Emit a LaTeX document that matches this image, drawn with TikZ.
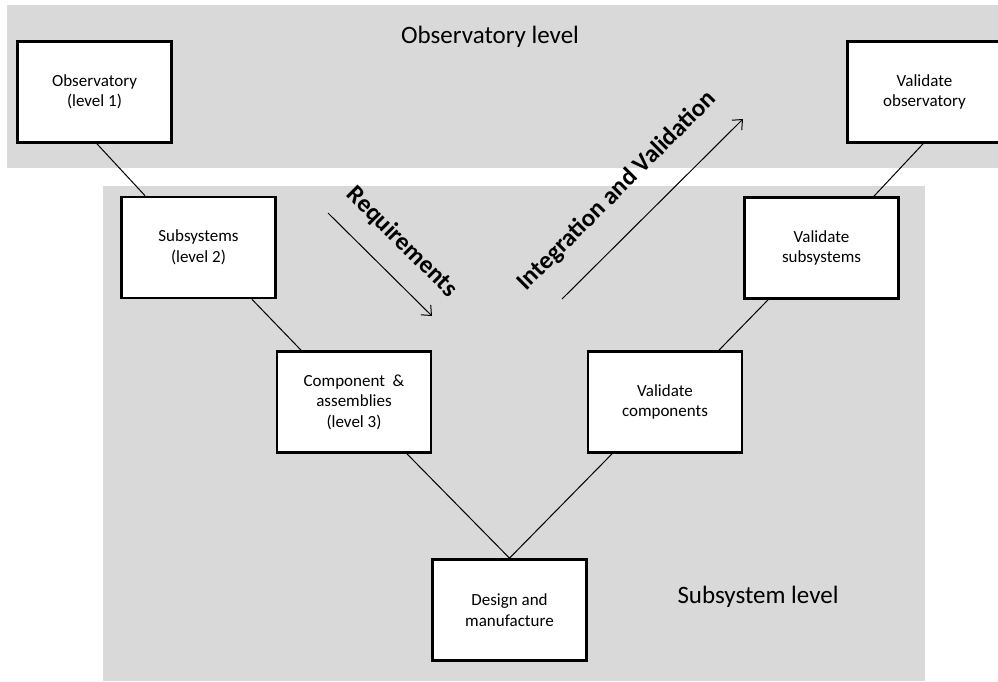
\documentclass[tikz,border=0pt]{standalone}
\usepackage{fontspec}
\setmainfont{Carlito}
\usetikzlibrary{calc,arrows.meta}
\definecolor{bandgray}{HTML}{D9D9D9}
\begin{document}
\begin{tikzpicture}[x=1pt,y=-1pt,
  box/.style={draw=black, line width=2.7pt, fill=white, minimum width=154pt,
    minimum height=101pt, inner sep=0pt, align=center,
    font=\fontsize{17}{20.5}\selectfont},
  link/.style={line width=1pt},
  flow/.style={line width=1pt, -{Straight Barb[length=8pt,width=14pt]}},
  title/.style={font=\fontsize{25}{30}\selectfont, inner sep=0pt},
  flowlabel/.style={font=\bfseries\fontsize{25}{30}\selectfont, inner sep=0pt}]
\useasboundingbox (0,0) rectangle (998,681);
% backgrounds
\fill[bandgray] (7,5) rectangle (998,168);
\fill[bandgray] (103,186) rectangle (925,681);
% titles
\node[title] (tobs) at (490,37) {Observatory level};
\node[title] (tsub) at (758,597) {Subsystem level};
% boxes
\node[box] (obs) at (94.5,92) {Observatory\\(level 1)};
\node[box] (sub) at (198.5,247.5) {Subsystems\\(level 2)};
\node[box] (comp) at (354,402) {Component\ \ \&\\assemblies\\(level 3)};
\node[box] (des) at (509.5,610) {Design and\\manufacture};
\node[box] (vcomp) at (665,402) {Validate\\components};
\node[box] (vsub) at (821.5,248) {Validate\\subsystems};
\node[box] (vobs) at (924.5,92) {Validate\\observatory};
% connectors
\draw[link] ($(obs.south)+(2.5,0)$) -- ($(sub.north)+(-53.5,0)$);
\draw[link] ($(sub.south)+(53.5,0)$) -- ($(comp.north)+(-53,0)$);
\draw[link] ($(comp.south)+(53,0)$) -- (des.north);
\draw[link] ($(vcomp.south)+(-53,0)$) -- (des.north);
\draw[link] ($(vcomp.north)+(54,0)$) -- ($(vsub.south)+(-53.5,0)$);
\draw[link] ($(vsub.north)+(52.5,0)$) -- ($(vobs.south)+(-1.5,0)$);
% flow arrows
\coordinate (r1) at (328,213);
\coordinate (r2) at (432,316);
\coordinate (i1) at (562,299);
\coordinate (i2) at (743,119);
\draw[flow] (r1) -- (r2);
\draw[flow] (i1) -- (i2);
\node[flowlabel, rotate=-45] (lreq) at (402,242) {Requirements};
\node[flowlabel, rotate=45] (lint) at (617,191) {Integration and Validation};
\end{tikzpicture}
\end{document}
